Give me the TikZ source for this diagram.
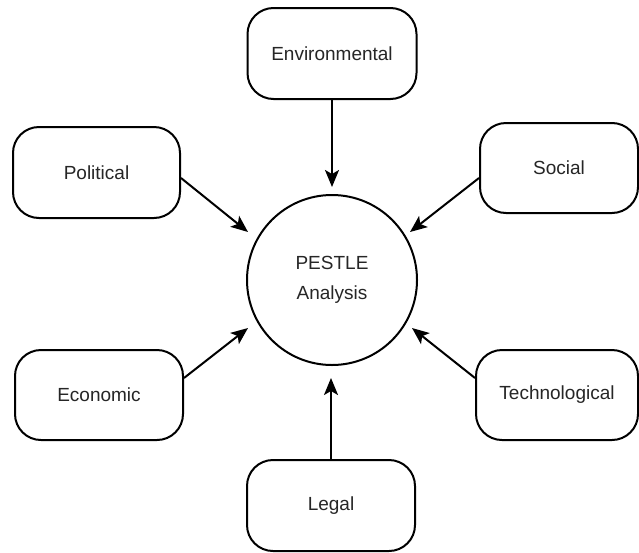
\documentclass[tikz,border=0pt]{standalone}
\usepackage{fontspec}
\setmainfont{Liberation Sans}
\usetikzlibrary{arrows.meta}
\begin{document}
\begin{tikzpicture}[x=1pt,y=-1pt,
  box/.style={draw=black, line width=2pt, rounded corners=26pt, fill=white,
    inner sep=0pt, font=\fontsize{19}{23}\selectfont, text=black!85},
  hub/.style={draw=black, line width=2pt, circle, minimum size=170pt, inner sep=0pt,
    font=\fontsize{19}{30}\selectfont, text=black!85, align=center},
  arr/.style={line width=2pt, -{Stealth[length=17pt,width=14pt,inset=4pt]}}]
\useasboundingbox (0,0) rectangle (639,552);
\node[hub] (c) at (332,280) {PESTLE\\Analysis};
\node[box, minimum width=169pt, minimum height=91pt] (env) at (332,53.5) {Environmental};
\node[box, minimum width=167pt, minimum height=91pt] (pol) at (96.5,172.5) {Political};
\node[box, minimum width=158pt, minimum height=90pt] (soc) at (559,168) {Social};
\node[box, minimum width=168pt, minimum height=90pt] (eco) at (99,395) {Economic};
\node[box, minimum width=162pt, minimum height=90pt] (tec) at (557,395) {Technological};
\node[box, minimum width=168pt, minimum height=91pt] (leg) at (331,505.5) {Legal};
\coordinate (tEnv) at (332,187);
\coordinate (tPol) at (248,232);
\coordinate (tSoc) at (410,232);
\coordinate (tEco) at (248,328);
\coordinate (tTec) at (412,328);
\coordinate (tLeg) at (331,378);
\draw[arr] (env.south) -- (tEnv);
\draw[arr] ([yshift=-5.5pt]pol.east) -- (tPol);
\draw[arr] ([yshift=-10pt]soc.west) -- (tSoc);
\draw[arr] ([yshift=17pt]eco.east) -- (tEco);
\draw[arr] ([yshift=17pt]tec.west) -- (tTec);
\draw[arr] (leg.north) -- (tLeg);
\end{tikzpicture}
\end{document}
